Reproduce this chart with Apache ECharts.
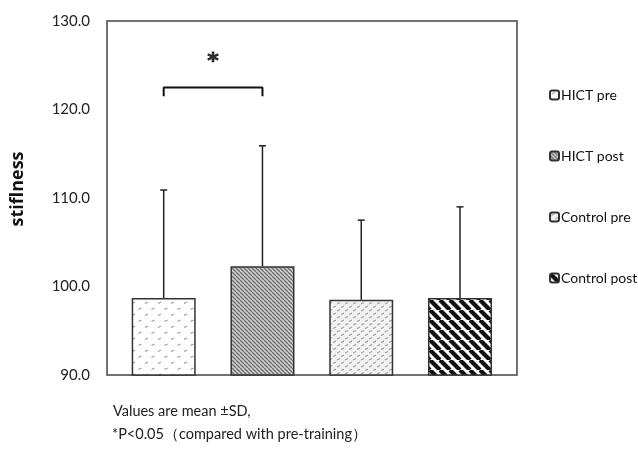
<!DOCTYPE html>
<html><head><meta charset="utf-8">
<script src="https://cdn.jsdelivr.net/npm/echarts@6/dist/echarts.min.js"></script>
<style>html,body{margin:0;padding:0;background:#fff}#c{width:638px;height:449px}</style>
</head><body><div id="c"></div>
<script>
const groups = ['HICT pre', 'HICT post', 'Control pre', 'Control post'];
const means = [98.7, 102.3, 98.5, 98.7];
const sds = [12.2, 13.6, 9.0, 10.3];
const yTicks = [90, 100, 110, 120, 130];
const bracket = { from: 0, to: 1, top: 122.5, foot: 121.5, starY: 125.3 };

function makePattern(w, h, draw) {
  const c = document.createElement('canvas');
  c.width = w; c.height = h;
  const g = c.getContext('2d');
  draw(g, w, h);
  return { image: c, repeat: 'repeat' };
}
function dashes(g, w, h, bg, fg, pts) {
  g.fillStyle = bg; g.fillRect(0, 0, w, h);
  g.strokeStyle = fg; g.lineWidth = 1.2;
  pts.forEach(p => { g.beginPath(); g.moveTo(p[0], p[1] + 1.5); g.lineTo(p[0] + 3, p[1]); g.stroke(); });
}
function stripes(g, w, bg, fg, lw) {
  g.fillStyle = bg; g.fillRect(0, 0, w, w);
  g.strokeStyle = fg; g.lineWidth = lw;
  [-w, 0, w].forEach(o => { g.beginPath(); g.moveTo(o, 0); g.lineTo(o + w, w); g.stroke(); });
}
const patterns = [
  makePattern(13, 12, (g, w, h) => dashes(g, w, h, '#ffffff', '#9a9a9a', [[2, 2], [8.5, 8]])),
  makePattern(4, 4, (g, w) => stripes(g, w, '#d0d0d0', '#6e6e6e', 1.3)),
  makePattern(8, 7, (g, w, h) => dashes(g, w, h, '#f2f2f2', '#a0a0a0', [[1, 1.5], [5, 5]])),
  makePattern(10, 10, (g, w) => stripes(g, w, '#ffffff', '#111111', 4.2))
];

const chart = echarts.init(document.getElementById('c'), null, { renderer: 'canvas' });
const font = 'Lato, "Open Sans", sans-serif';

const barSeries = groups.map((name, i) => ({
  name: name,
  type: 'bar',
  barWidth: 64,
  barGap: '-100%',
  data: [[i, means[i]]],
  itemStyle: { color: patterns[i], borderColor: '#333', borderWidth: 1.5 },
  emphasis: { disabled: true },
  z: 2
}));

const option = {
  animation: false,
  textStyle: { fontFamily: font },
  grid: { left: 107, top: 21, width: 410, height: 354, show: true, borderColor: '#444', borderWidth: 1.5, backgroundColor: 'transparent' },
  legend: {
    data: groups,
    orient: 'vertical',
    left: 544, top: 83,
    itemWidth: 9, itemHeight: 9, itemGap: 47,
    textStyle: { fontSize: 14, color: '#111', fontFamily: font, padding: [0, 0, 0, -3] },
    selectedMode: false
  },
  xAxis: { type: 'value', min: -0.574, max: 3.577, show: false },
  yAxis: {
    type: 'value', min: yTicks[0], max: yTicks[yTicks.length - 1], interval: 10,
    axisLine: { show: false }, axisTick: { show: false }, splitLine: { show: false },
    axisLabel: { formatter: v => v.toFixed(1), fontSize: 15, color: '#222', margin: 17, fontFamily: font }
  },
  series: barSeries.concat([
    {
      type: 'custom',
      data: means.map((m, i) => [i, m, m + sds[i]]),
      renderItem: (params, api) => {
        const base = api.coord([api.value(0), api.value(1)]);
        const top = api.coord([api.value(0), api.value(2)]);
        const st = { stroke: '#222', lineWidth: 1.5 };
        return {
          type: 'group', children: [
            { type: 'line', shape: { x1: base[0], y1: base[1], x2: top[0], y2: top[1] }, style: st },
            { type: 'line', shape: { x1: top[0] - 3.5, y1: top[1], x2: top[0] + 3.5, y2: top[1] }, style: st }
          ]
        };
      },
      z: 3
    },
    {
      type: 'line',
      data: [[bracket.from, bracket.foot], [bracket.from, bracket.top], [bracket.to, bracket.top], [bracket.to, bracket.foot]],
      symbol: 'none',
      lineStyle: { color: '#111', width: 2 },
      z: 3
    },
    {
      type: 'scatter',
      data: [[(bracket.from + bracket.to) / 2, bracket.starY]],
      symbolSize: 1,
      itemStyle: { color: 'transparent' },
      label: { show: true, position: 'inside', formatter: '*', fontSize: 22, fontWeight: 900, color: '#000', fontFamily: '"DejaVu Sans", sans-serif', textBorderColor: '#000', textBorderWidth: 0.8 }
    }
  ]),
  graphic: [
    { type: 'text', x: 18, y: 189, rotation: Math.PI / 2, style: { text: 'stiflness', fontSize: 18, fontWeight: 'bold', fill: '#111', fontFamily: '"Open Sans", sans-serif', align: 'center', verticalAlign: 'middle' } },
    { type: 'text', left: 113, top: 404, style: { text: 'Values are mean ±SD,', fontSize: 14.5, fill: '#222', fontFamily: font } },
    { type: 'text', left: 112, top: 427, style: { text: '*P<0.05（compared with pre-training）', fontSize: 14.5, fill: '#222', fontFamily: font } }
  ]
};
chart.setOption(option);
</script></body></html>
